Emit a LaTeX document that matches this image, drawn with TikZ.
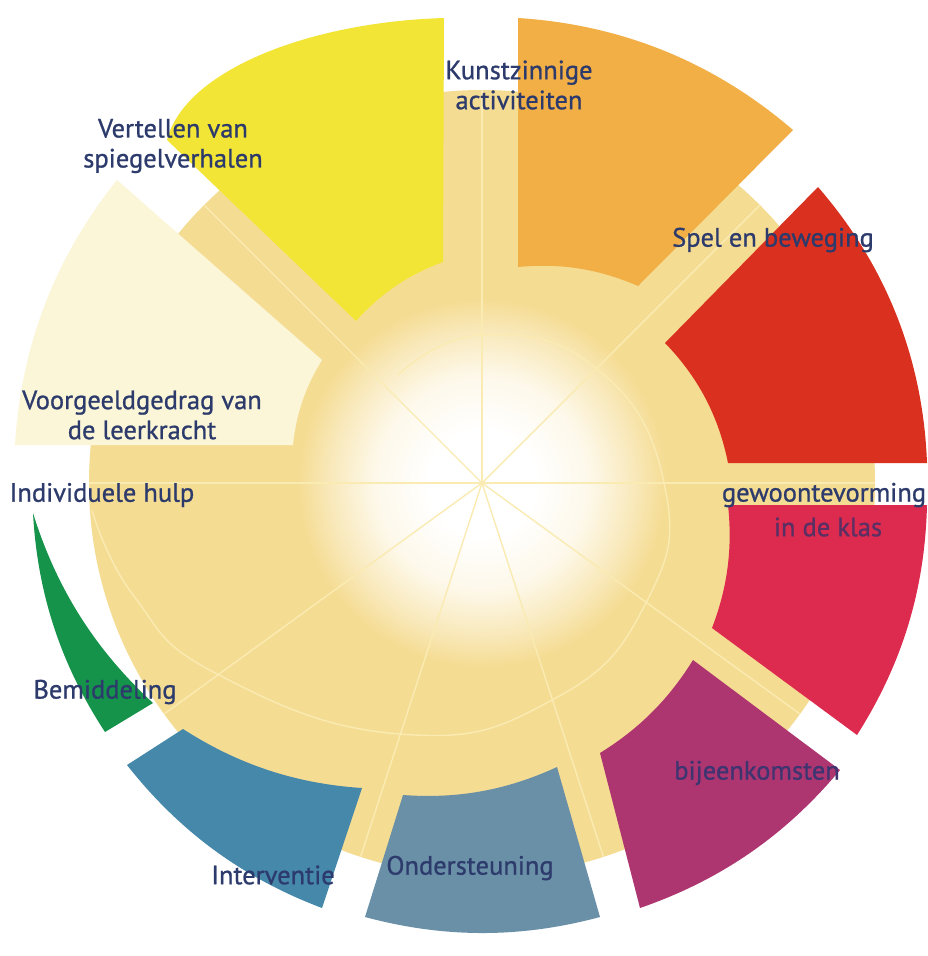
\documentclass[tikz,border=0pt]{standalone}
\usepackage{fontspec}
\setmainfont{PT Sans}
\newfontfamily\lblfont{PT Sans}[FakeBold=0.9]
\definecolor{beige}{HTML}{F5DC93}
\definecolor{raycol}{HTML}{FAEBB2}
\definecolor{navy}{HTML}{2D3B6C}
\definecolor{navyred}{HTML}{5A2F63}
\definecolor{navymag}{HTML}{3E3470}
\definecolor{cyellow}{HTML}{F2E536}
\definecolor{corange}{HTML}{F2AF46}
\definecolor{cred}{HTML}{D9301F}
\definecolor{ccrimson}{HTML}{DD2B4F}
\definecolor{cmagenta}{HTML}{AE3670}
\definecolor{cgrayblue}{HTML}{6A90A8}
\definecolor{cblue}{HTML}{4588AA}
\definecolor{cgreen}{HTML}{15934B}
\definecolor{ccream}{HTML}{FBF6D8}
\pgfdeclareradialshading{glow}{\pgfpoint{0bp}{0bp}}{color(0bp)=(white); color(7bp)=(white); color(14bp)=(white!80!beige); color(20bp)=(white!35!beige); color(24bp)=(beige); color(50bp)=(beige)}
\tikzset{
  ray/.style={draw=raycol, line width=1.4pt},
  lbl/.style={font=\lblfont\fontsize{26.5}{30}\selectfont, text=navy, align=center, inner sep=0pt},
  bnd/.style={looseness=0.9}
}
\begin{document}
\begin{tikzpicture}[x=1pt,y=1pt]
\useasboundingbox (0,0) rectangle (927,-956);
\fill[white] (0,0) rectangle (927,-956);
\coordinate (C) at (482,-483);
% beige disc and glow
\fill[beige] (C) circle (393);
\shade[shading=glow] (C) circle (192);
\begin{scope}[shift={(C)}]
  \foreach \a in {0,45,90,135,180,216,252,288,324}
    \draw[ray] (0,0) -- (\a:393);
  \draw[ray] plot[smooth, tension=0.8] coordinates {(128:137) (90:148) (45:162) (0:182) (-36:203) (-72:228) (-108:264) (-144:326) (-162:366) (-176:391)};
\end{scope}
% sectors
\fill[cyellow] (443,-262) -- (444,-18) .. controls (310,-22) and (185,-70) .. (167,-140) -- (356,-321) to[bend left=14,bnd] (443,-262) -- cycle;
\fill[corange] (638,-286) -- (793,-130) to[bend right=18.5,bnd] (518,-18) -- (518,-267) to[bend left=14.5,bnd] (638,-286) -- cycle;
\fill[cred] (728,-463) -- (927,-463) to[bend right=19.4,bnd] (818,-187) -- (665,-343) to[bend left=16.4,bnd] (728,-463) -- cycle;
\fill[ccrimson] (712,-628) -- (857,-735) to[bend right=15.5,bnd] (927,-505) -- (728,-505) to[bend left=13.5,bnd] (712,-628) -- cycle;
\fill[cmagenta] (600,-753) -- (640,-908) to[bend right=15.5,bnd] (840,-770) -- (693,-660) to[bend left=13.2,bnd] (600,-753) -- cycle;
\fill[cgrayblue] (403,-795) -- (365,-917) to[bend right=15,bnd] (600,-917) -- (557,-767) to[bend left=14.5,bnd] (403,-795) -- cycle;
\fill[cblue] (183,-729) -- (127,-765) to[bend right=15.5,bnd] (322,-908) -- (362,-788) to[bend left=14.5,bnd] (183,-729) -- cycle;
\fill[cgreen] (33,-513) to[bend right=15,bnd] (105,-732) -- (153,-703) to[bend left=15,bnd] (33,-513) -- cycle;
\fill[ccream] (322,-360) -- (117,-180) to[bend right=17.5,bnd] (15,-445) -- (293,-445) to[bend left=13,bnd] (322,-360) -- cycle;
% labels
\node[lbl] (kunst) at (519,-85) {Kunstzinnige\\activiteiten};
\node[lbl] (vert) at (173,-146) {Vertellen van\\spiegelverhalen};
\node[lbl] (spel) at (773,-240) {Spel en beweging};
\node[lbl] (voor) at (142,-415) {Voorgeeldgedrag van\\de leerkracht};
\node[lbl] (indiv) at (102,-495) {Individuele hulp};
\node[lbl] (gewoon) at (824,-495) {gewoontevorming};
\node[lbl,text=navyred] (klas) at (828,-527) {in de klas};
\node[lbl,text=navymag] (bijeen) at (757,-773) {bijeenkomsten};
\node[lbl] (bemid) at (105,-692) {Bemiddeling};
\node[lbl] (inter) at (273,-875) {Interventie};
\node[lbl] (onder) at (470,-868) {Ondersteuning};
\end{tikzpicture}
\end{document}
